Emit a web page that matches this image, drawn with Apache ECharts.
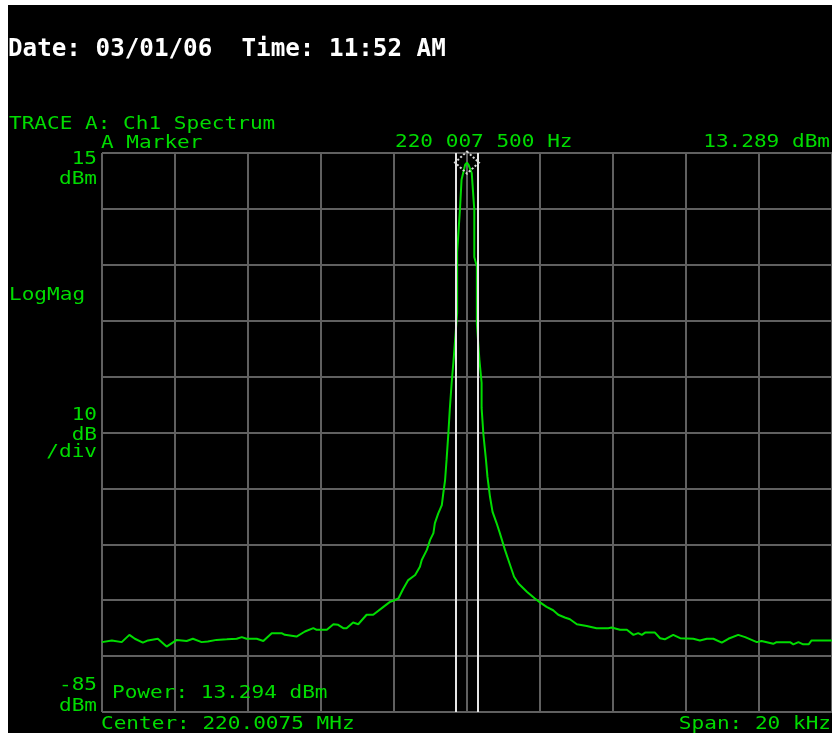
<!DOCTYPE html>
<html>
<head>
<meta charset="utf-8">
<script src="https://cdn.jsdelivr.net/npm/echarts@6/dist/echarts.min.js"></script>
<style>
html,body{margin:0;padding:0;background:#fff;}
#chart{width:832px;height:733px;}
</style>
</head>
<body>
<div id="chart"></div>
<script>
// Frequency offset from center (kHz), center 220.0075 MHz, span 20 kHz
const freqKHz = [
  -10.0, -9.73, -9.46, -9.25, -9.10, -8.88, -8.74, -8.47, -8.23, -7.95,
  -7.68, -7.51, -7.27, -7.10, -6.86, -6.58, -6.31, -6.17, -6.04, -5.76,
  -5.58, -5.35, -5.08, -4.99, -4.67, -4.44, -4.21, -4.12, -3.84, -3.66,
  -3.53, -3.39, -3.30, -3.12, -2.98, -2.75, -2.57, -2.29, -2.11, -2.02,
  -1.88, -1.75, -1.61, -1.42, -1.29, -1.24, -1.10, -1.01, -0.92, -0.88,
  -0.79, -0.69, -0.65, -0.60, -0.56, -0.51, -0.47, -0.42, -0.36, -0.27,
  -0.27, -0.19, -0.15, -0.05, 0.00, 0.04, 0.13, 0.20, 0.20, 0.27,
  0.27, 0.34, 0.40, 0.40, 0.45, 0.52, 0.56, 0.63, 0.70, 0.81,
  0.90, 1.04, 1.18, 1.29, 1.41, 1.64, 1.86, 2.00, 2.18, 2.36,
  2.50, 2.68, 2.82, 3.01, 3.28, 3.55, 3.87, 3.96, 4.19, 4.38,
  4.56, 4.69, 4.79, 4.88, 5.15, 5.29, 5.42, 5.65, 5.84, 6.20,
  6.38, 6.57, 6.75, 6.98, 7.16, 7.43, 7.62, 7.94, 8.07, 8.39,
  8.48, 8.85, 8.94, 9.08, 9.21, 9.36, 9.44, 10.0
];
// Trace level (dBm)
const levelDbm = [
  -72.5, -72.2, -72.5, -71.2, -71.9, -72.6, -72.2, -71.9, -73.3, -72.1,
  -72.3, -71.9, -72.5, -72.4, -72.1, -72.0, -71.9, -71.6, -71.9, -71.9,
  -72.3, -70.9, -70.9, -71.2, -71.5, -70.6, -70.0, -70.3, -70.3, -69.3,
  -69.4, -70.0, -70.0, -69.0, -69.3, -67.6, -67.6, -66.2, -65.3, -65.1,
  -64.7, -63.0, -61.4, -60.5, -59.0, -57.8, -56.0, -54.2, -53.0, -51.2,
  -49.5, -48.0, -45.9, -43.5, -39.9, -35.1, -30.7, -26.1, -21.4, -13.6,
  -2.7, 5.2, 10.2, 12.9, 13.289, 12.9, 11.4, 4.8, -3.6, -5.3,
  -15.5, -22.0, -26.1, -30.6, -35.4, -39.9, -42.9, -46.5, -49.2, -51.2,
  -53.0, -56.0, -58.7, -60.8, -62.0, -63.5, -64.7, -65.4, -66.2, -66.8,
  -67.6, -68.1, -68.4, -69.3, -69.6, -70.0, -70.0, -69.9, -70.3, -70.3,
  -71.2, -70.9, -71.2, -70.8, -70.8, -71.8, -72.0, -71.2, -71.8, -71.9,
  -72.2, -71.9, -71.9, -72.6, -71.9, -71.2, -71.6, -72.5, -72.3, -72.8,
  -72.5, -72.5, -72.9, -72.5, -72.9, -72.9, -72.2, -72.2
];
const markerLinesKHz = [-0.30, 0.29];
const markerPeak = [0, 13.289];

const GREEN = '#00dc00';
const MONO = '"DejaVu Sans Mono", "Liberation Mono", monospace';
const SX = 1.17;

function txt(text, x, y, align, opts) {
  opts = opts || {};
  return {
    type: 'text', x: x, y: y, scaleX: opts.scaleX !== undefined ? opts.scaleX : SX, z: 10,
    style: {
      text: text, fill: opts.fill || GREEN,
      font: opts.font || ('18px ' + MONO),
      align: align || 'left', verticalAlign: 'middle'
    }
  };
}

const chart = echarts.init(document.getElementById('chart'), null, {renderer: 'canvas'});
chart.setOption({
  animation: false,
  backgroundColor: '#000',
  grid: {left: 102, top: 153, width: 730, height: 559, containLabel: false},
  xAxis: {
    type: 'value', min: -10, max: 10, interval: 2,
    axisLine: {show: false}, axisTick: {show: false}, axisLabel: {show: false},
    splitLine: {show: true, lineStyle: {color: '#606060', width: 2}}
  },
  yAxis: [
    {type: 'value', min: -85, max: 15, show: false},
    {type: 'value', min: 0, max: 100, interval: 10, position: 'left',
     axisLine: {show: false}, axisTick: {show: false}, axisLabel: {show: false},
     splitLine: {show: true, lineStyle: {color: '#606060', width: 2}}}
  ],
  series: [{
    type: 'line', yAxisIndex: 0,
    data: freqKHz.map((f, i) => [f, levelDbm[i]]),
    showSymbol: false, symbol: 'none',
    lineStyle: {color: GREEN, width: 2},
    markLine: {
      silent: true, symbol: 'none', label: {show: false},
      lineStyle: {color: '#e6e6e6', width: 2, type: 'solid'},
      data: markerLinesKHz.map(v => ({xAxis: v}))
    },
    markPoint: {
      silent: true,
      data: [{coord: markerPeak, symbol: 'diamond', symbolSize: [24, 22],
        itemStyle: {color: 'rgba(0,0,0,0)', borderColor: '#d8d8d8', borderWidth: 2, borderType: [2, 2]},
        label: {show: false}}]
    }
  }],
  graphic: [
    {type: 'rect', shape: {x: 0, y: 0, width: 8, height: 733}, style: {fill: '#fff'}, z: 10},
    {type: 'rect', shape: {x: 0, y: 0, width: 832, height: 5}, style: {fill: '#fff'}, z: 10},
    txt('Date: 03/01/06  Time: 11:52 AM', 8, 49.5, 'left', {fill: '#fff', font: 'bold 24px ' + MONO, scaleX: 1.01}),
    txt('TRACE A: Ch1 Spectrum', 9, 124.5, 'left'),
    txt('A Marker', 101, 143, 'left'),
    txt('220 007 500 Hz', 395, 142.5, 'left'),
    txt('13.289 dBm', 830, 142.5, 'right'),
    txt('15', 97, 159.5, 'right'),
    txt('dBm', 97, 179, 'right'),
    txt('LogMag', 9, 295, 'left'),
    txt('10', 97, 415.5, 'right'),
    txt('dB', 97, 435.5, 'right'),
    txt('/div', 97, 452, 'right'),
    txt('-85', 97, 685.5, 'right'),
    txt('dBm', 97, 706.5, 'right'),
    txt('Power: 13.294 dBm', 112, 693, 'left'),
    txt('Center: 220.0075 MHz', 101, 724, 'left'),
    txt('Span: 20 kHz', 831, 724, 'right')
  ]
});
</script>
</body>
</html>
